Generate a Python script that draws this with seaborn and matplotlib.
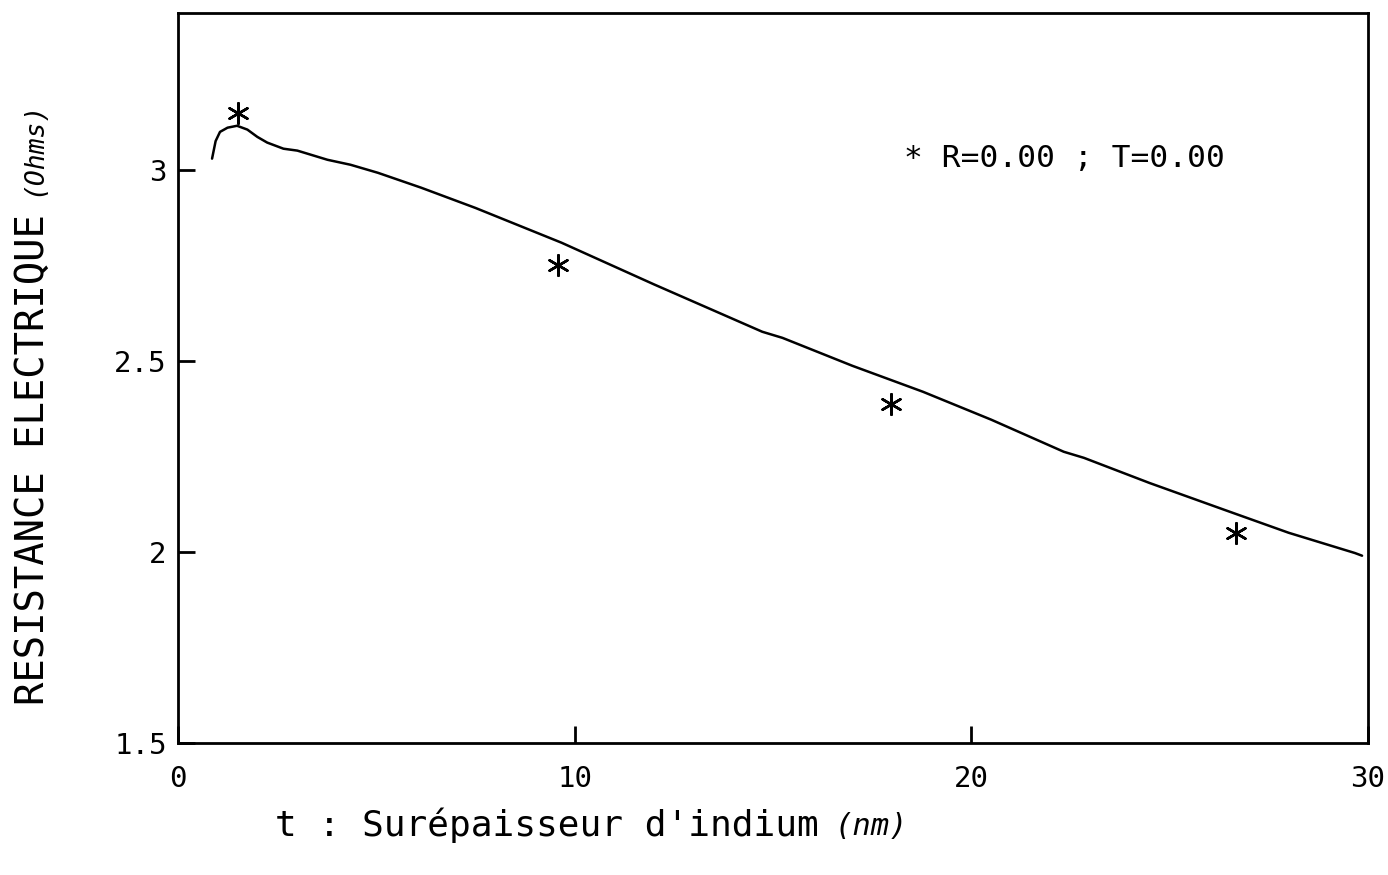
import numpy as np
import pandas as pd
import matplotlib
matplotlib.use("Agg")
import matplotlib.pyplot as plt
import seaborn as sns

# ── data ──
curve_t = [0.86, 0.95, 1.06, 1.25, 1.49, 1.75, 2.00, 2.25, 2.66, 3.01, 3.77,
           4.35, 5.04, 6.13, 7.5, 9.67, 12.0, 14.73, 15.24, 17.0, 18.78,
           20.5, 22.33, 22.84, 24.5, 26.38, 28.0, 29.67, 29.85]
curve_R = [3.029, 3.075, 3.099, 3.110, 3.115, 3.105, 3.086, 3.071, 3.055, 3.050, 3.026,
           3.013, 2.992, 2.953, 2.900, 2.809, 2.700, 2.576, 2.560, 2.487, 2.419,
           2.346, 2.262, 2.246, 2.180, 2.110, 2.050, 1.997, 1.990]

meas_t = [1.52, 9.59, 17.97, 26.68]
meas_R = [3.149, 2.751, 2.387, 2.050]

x_ticks = [0, 10, 20, 30]
y_ticks = [1.5, 2, 2.5, 3]
y_tick_labels = ["1.5", "2", "2.5", "3"]

sns.set_theme(style="white")
plt.rcParams['font.family'] = ['DejaVu Sans Mono', 'DejaVu Sans']

fig = plt.figure(figsize=(13.88, 8.75), dpi=100)
ax = fig.add_axes([0.1282, 0.1509, 0.8574, 0.8342])

df_curve = pd.DataFrame({"t": curve_t, "R": curve_R})
df_meas = pd.DataFrame({"t": meas_t, "R": meas_R})

sns.lineplot(data=df_curve, x="t", y="R", sort=False, color="black", linewidth=1.8, ax=ax)
sns.scatterplot(data=df_meas, x="t", y="R", marker=(6, 2, 0), s=220, color="black",
                linewidth=1.8, edgecolor="black", ax=ax)

ax.set_xlim(0, 30)
ax.set_ylim(1.5, 3.41)
ax.set_xticks(x_ticks)
ax.set_xticklabels([str(v) for v in x_ticks])
ax.set_yticks(y_ticks)
ax.set_yticklabels(y_tick_labels)
ax.tick_params(axis="both", direction="in", length=12, width=2, labelsize=21,
               colors="black", bottom=True, left=True)
ax.tick_params(axis="x", pad=16)
ax.tick_params(axis="y", pad=8)
for sp in ax.spines.values():
    sp.set_visible(True)
    sp.set_linewidth(2)
    sp.set_color("black")

ax.set_xlabel("")
ax.set_ylabel("")

# legend-like note
ax.text(18.3, 3.03, "* R=0.00 ; T=0.00", fontsize=22.5, color="black", va="center", ha="left")

# y axis label (two parts, second in italic)
fig.text(0.024, 0.194, "RESISTANCE ELECTRIQUE", rotation=90, fontsize=28,
         va="bottom", ha="center", color="black")
fig.text(0.024, 0.776, "(Ohms)", rotation=90, fontsize=19, style="italic",
         va="bottom", ha="center", color="black")

# x axis label
fig.text(0.198, 0.057, "t : Surépaisseur d'indium", fontsize=26,
         va="center", ha="left", color="black")
fig.text(0.601, 0.055, "(nm)", fontsize=22, style="italic",
         va="center", ha="left", color="black")

plt.savefig("out.png", dpi=100)
